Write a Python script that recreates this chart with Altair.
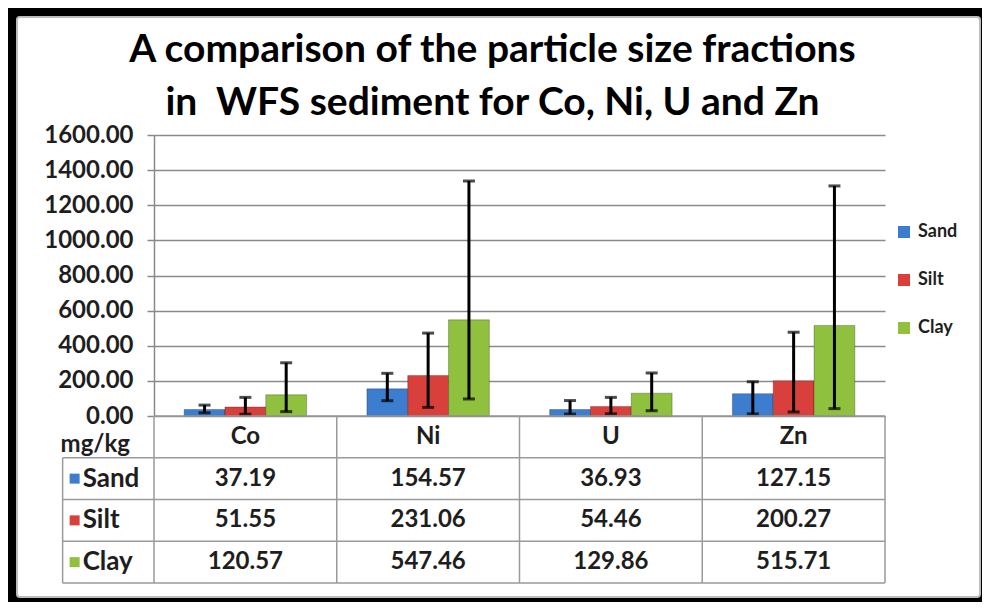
import altair as alt
import pandas as pd

# ---------------- data ----------------
elements = ["Co", "Ni", "U", "Zn"]
fractions = ["Sand", "Silt", "Clay"]

sand = [37.19, 154.57, 36.93, 127.15]
silt = [51.55, 231.06, 54.46, 200.27]
clay = [120.57, 547.46, 129.86, 515.71]

# error bar extents (low / high)
sand_low = [18, 87, 11, 12]
sand_high = [62, 243, 88, 195]
silt_low = [10, 49, 13, 23]
silt_high = [106, 472, 106, 477]
clay_low = [25, 97, 30, 42]
clay_high = [303, 1338, 245, 1310]

y_ticks = [0, 200, 400, 600, 800, 1000, 1200, 1400, 1600]
title_lines = ["A comparison of the particle size fractions",
               "in\u00a0 WFS sediment for Co, Ni, U and Zn"]
unit_label = "mg/kg"

colors = ["#3c7dd0", "#d9403b", "#8fc13e"]
FONT = "Lato"
TXT = "#1e1e1e"
GRID = "#8a8a8a"
LINE = "#9a9a9a"

# ---------------- frames ----------------
rows = []
for f, vals, lo, hi in zip(fractions, [sand, silt, clay],
                           [sand_low, silt_low, clay_low],
                           [sand_high, silt_high, clay_high]):
    for e, v, l, h in zip(elements, vals, lo, hi):
        rows.append(dict(Element=e, Fraction=f, Value=v, Low=l, High=h))
df = pd.DataFrame(rows)

W, H = 731, 281
TABLE_H = 167
n_cols = len(elements)
n_rows = len(fractions) + 1
LABEL_LEFT = -0.5

segs = []
for k in range(n_cols + 1):
    segs.append(dict(x=k, x2=k, y=0, y2=n_rows))
segs.append(dict(x=LABEL_LEFT, x2=LABEL_LEFT, y=1, y2=n_rows))
segs.append(dict(x=0, x2=n_cols, y=0, y2=0))
for j in range(1, n_rows + 1):
    segs.append(dict(x=LABEL_LEFT, x2=n_cols, y=j, y2=j))
seg_df = pd.DataFrame(segs)

cells = []
for k, e in enumerate(elements):
    cells.append(dict(x=k + 0.5, y=0.5, t=e))
for i, (f, vals) in enumerate(zip(fractions, [sand, silt, clay])):
    for k, v in enumerate(vals):
        cells.append(dict(x=k + 0.5, y=i + 1.5, t=f"{v:.2f}"))
cell_df = pd.DataFrame(cells)

lab_df = pd.DataFrame([dict(x=LABEL_LEFT, y=i + 1.5, t=f, c=c)
                       for i, (f, c) in enumerate(zip(fractions, colors))])
unit_df = pd.DataFrame([dict(x=0, y=0.5, t=unit_label)])

# ---------------- bar layer ----------------
x_enc = alt.X("Element:N", sort=elements, axis=None,
              scale=alt.Scale(paddingInner=0.33, paddingOuter=0.165))
xo_enc = alt.XOffset("Fraction:N", sort=fractions,
                     scale=alt.Scale(paddingInner=0, paddingOuter=0))
yscale = alt.Scale(domain=[0, 1600], nice=False)
y_axis = alt.Axis(values=y_ticks, tickCount=len(y_ticks), format=".2f", title=None,
                  labelFont=FONT, labelFontSize=24, labelFontWeight="bold",
                  labelColor=TXT, labelOverlap=False, labelBound=False,
                  tickSize=7, tickColor=GRID, tickWidth=1.5,
                  domainColor=GRID, domainWidth=1.5, grid=True,
                  gridColor=GRID, gridWidth=1.5, labelPadding=14)

bars = alt.Chart(df).mark_bar(stroke="black", strokeOpacity=0.25, strokeWidth=1).encode(
    x=x_enc, xOffset=xo_enc,
    y=alt.Y("Value:Q", scale=yscale, title=None, axis=y_axis),
    color=alt.Color("Fraction:N", sort=fractions,
                    scale=alt.Scale(domain=fractions, range=colors),
                    legend=alt.Legend(orient="none", legendX=741, legendY=88,
                                      title=None, symbolType="square", symbolSize=144,
                                      symbolStrokeWidth=0,
                                      labelFont=FONT, labelFontSize=18,
                                      labelFontWeight="bold", labelColor=TXT,
                                      rowPadding=30, labelOffset=5)),
)

err = alt.Chart(df).mark_rule(color="black", strokeWidth=3).encode(
    x=x_enc, xOffset=xo_enc,
    y=alt.Y("Low:Q", scale=yscale, title=None, axis=y_axis), y2="High:Q")
cap_lo = alt.Chart(df).mark_tick(color="black", thickness=3, size=12).encode(
    x=x_enc, xOffset=xo_enc, y=alt.Y("Low:Q", scale=yscale, title=None, axis=y_axis))
cap_hi = alt.Chart(df).mark_tick(color="black", thickness=3, size=12).encode(
    x=x_enc, xOffset=xo_enc, y=alt.Y("High:Q", scale=yscale, title=None, axis=y_axis))

bar_layer = alt.layer(bars, err, cap_lo, cap_hi)

# ---------------- table layer ----------------
tx_scale = alt.Scale(domain=[0, n_cols], nice=False, zero=False)
ty_scale = alt.Scale(domain=[0, n_rows], range=[H, H + TABLE_H], nice=False, zero=False)
tx = alt.X("x:Q", scale=tx_scale, axis=None)
ty = alt.Y("y:Q", scale=ty_scale, axis=None)

t_lines = alt.Chart(seg_df).mark_rule(color=LINE, strokeWidth=1.5).encode(
    x=tx, x2="x2:Q", y=ty, y2="y2:Q")
t_cells = alt.Chart(cell_df).mark_text(font=FONT, fontSize=24, fontWeight="bold",
                                       color=TXT, baseline="middle").encode(
    x=tx, y=ty, text="t:N")
t_labels = alt.Chart(lab_df).mark_text(font=FONT, fontSize=26, fontWeight="bold",
                                       color=TXT, align="left", baseline="middle",
                                       dx=20).encode(x=tx, y=ty, text="t:N")
t_squares = alt.Chart(lab_df).mark_square(size=100, opacity=1, xOffset=12).encode(
    x=tx, y=ty, color=alt.Color("c:N", scale=None))
t_unit = alt.Chart(unit_df).mark_text(font=FONT, fontSize=24, fontWeight="bold",
                                      color=TXT, align="right", baseline="middle",
                                      dx=-24, dy=8).encode(x=tx, y=ty, text="t:N")

table_layer = alt.layer(t_lines, t_cells, t_labels, t_squares, t_unit)

# ---------------- decorative frame (black border + thin grey inner line) ----------------
frame_df = pd.DataFrame({"p": [0]})
frame_outer = alt.Chart(frame_df).mark_rect(
    fillOpacity=0, stroke="black", strokeWidth=20).encode(
    x=alt.value(-147), x2=alt.value(836), y=alt.value(-128), y2=alt.value(472))
frame_inner = alt.Chart(frame_df).mark_rect(
    fillOpacity=0, stroke="#bdbdbd", strokeWidth=2, cornerRadius=3).encode(
    x=alt.value(-137), x2=alt.value(826), y=alt.value(-118), y2=alt.value(462))

chart = alt.layer(bar_layer, table_layer, frame_outer, frame_inner).resolve_scale(
    x="independent", y="independent", xOffset="independent", color="independent"
).properties(
    width=W, height=H,
    autosize=alt.AutoSizeParams(type="none"),
    padding={"left": 146, "top": 127, "right": 97, "bottom": 186},
    title=alt.TitleParams(text=title_lines, font=FONT, fontSize=39, fontWeight="bold",
                          color="black", anchor="middle", lineHeight=53,
                          baseline="alphabetic", offset=-157, dx=-27),
).configure_view(strokeWidth=0)

chart.save("out.html", embed_options={"renderer": "svg", "actions": False})
